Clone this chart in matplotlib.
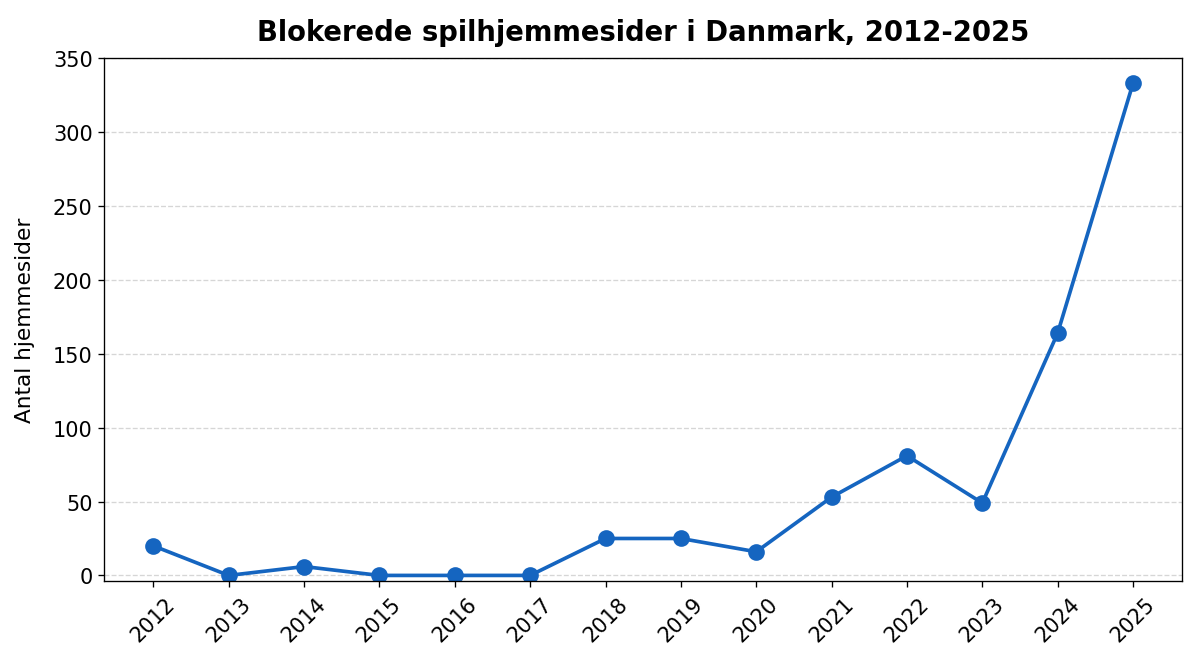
import matplotlib
matplotlib.use("Agg")
import matplotlib.pyplot as plt

# Blocked gambling websites per year
years = [2012, 2013, 2014, 2015, 2016, 2017, 2018, 2019, 2020, 2021, 2022, 2023, 2024, 2025]
blocked = [20, 0, 6, 0, 0, 0, 25, 25, 16, 53, 81, 49, 164, 333]

fig, ax = plt.subplots(figsize=(10, 5.483), dpi=120)

ax.plot(years, blocked, color="#1565C0", linewidth=2.2, marker="o", markersize=9)

ax.set_title("Blokerede spilhjemmesider i Danmark, 2012-2025", fontsize=16.5, fontweight="bold", pad=11)
ax.set_ylabel("Antal hjemmesider", fontsize=13, labelpad=11)
ax.set_xticks(years)
ax.set_xticklabels([str(y) for y in years], rotation=45)
ax.tick_params(axis="both", labelsize=12.5)
ax.set_ylim(-4, 350)
ax.grid(axis="y", linestyle="--", color="#cccccc", alpha=0.8)
ax.set_axisbelow(True)

fig.subplots_adjust(left=0.087, right=0.985, top=0.910, bottom=0.115)
plt.savefig("out.png", dpi=120)
